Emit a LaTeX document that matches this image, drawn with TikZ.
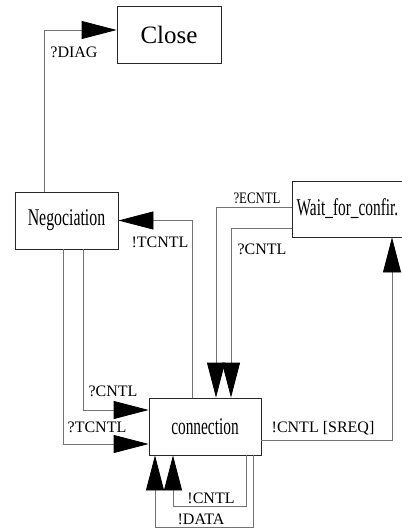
\documentclass[tikz,border=0pt]{standalone}
\usepackage{graphicx}
\usepackage{fontspec}
\setmainfont{Liberation Serif}
\usetikzlibrary{arrows.meta,positioning}

\begin{document}
\begin{tikzpicture}[x=1pt,y=-1pt,
  state/.style={draw=black!85,line width=0.8pt,inner sep=0pt,minimum height=57pt,
    font=\fontsize{24}{28}\selectfont},
  lbl/.style={inner sep=0pt,font=\fontsize{16}{18}\selectfont},
  trans/.style={draw=black!55,line width=0.8pt,
    -{Triangle[length=35pt,width=18pt,black]}}]
\useasboundingbox (0,0) rectangle (401,529);
% states
\node[state,minimum width=104pt,font=\fontsize{25}{28}\selectfont] (close) at (169,34.5) {Close};
\node[state,minimum width=103pt] (neg) at (66.5,220.5) {\scalebox{0.66}[1]{Negociation}};
\node[state,minimum width=111pt,minimum height=56pt] (wait) at (347.5,209) {\scalebox{0.64}[1]{Wait\_for\_confir.}};
\node[state,minimum width=112pt] (conn) at (205,426.5) {\scalebox{0.64}[1]{connection}};
% transitions
\draw[trans] ([xshift=-22.5pt]neg.north) |- ([yshift=4.5pt]close.west);
\draw[trans] ([xshift=-13pt]conn.north) |- (neg.east);
\draw[trans] ([xshift=16.5pt]neg.south) |- ([yshift=16.5pt]conn.west);
\draw[trans] ([xshift=-3.5pt]neg.south) |- ([yshift=-17.5pt]conn.west);
\draw[trans] ([yshift=2pt]wait.west) -| ([xshift=11pt]conn.north);
\draw[trans] ([yshift=-19pt]wait.west) -| ([xshift=26pt]conn.north);
\draw[trans] ([yshift=-13.5pt]conn.east) -| ([xshift=44.5pt]wait.south);
\draw[trans] ([xshift=41pt]conn.south) -- ++(0,51) -| ([xshift=-32pt]conn.south);
\draw[trans] ([xshift=48pt]conn.south) -- ++(0,72) -| ([xshift=-50pt]conn.south);
% labels
\node[lbl] (l-diag) at (74,52) {?DIAG};
\node[lbl] (l-tcntl) at (160,242) {!TCNTL};
\node[lbl] (l-ecntl) at (257,198) {\scalebox{0.8}[1]{?ECNTL}};
\node[lbl] (l-cntl-w) at (262,249) {?CNTL};
\node[lbl] (l-cntl-n) at (113,391) {?CNTL};
\node[lbl] (l-tcntl-n) at (97,427) {?TCNTL};
\node[lbl] (l-sreq) at (323,428) {!CNTL [SREQ]};
\node[lbl] (l-cntl-c) at (211,498) {!CNTL};
\node[lbl] (l-data) at (201,519) {!DATA};
\end{tikzpicture}
\end{document}
